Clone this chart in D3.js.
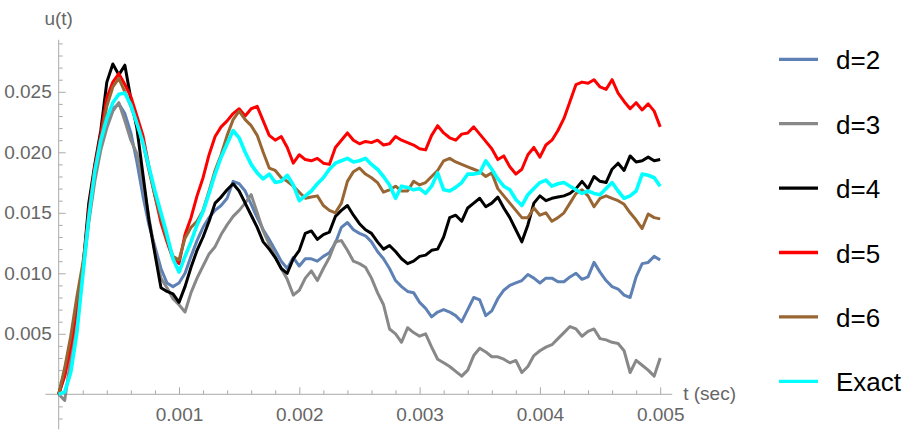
<!DOCTYPE html>
<html>
<head>
<meta charset="utf-8">
<script src="https://cdn.jsdelivr.net/npm/d3@7"></script>
<style>
  body { margin: 0; background: #fff; }
  svg { display: block; font-family: "Liberation Sans", Arial, sans-serif; }
</style>
</head>
<body>
<script>
// chart size
var W = 915;
var H = 436;

// sample times in ms (every 0.05 ms from 0 to 5 ms)
var tMs = d3.range(101).map(function(i) { return i * 0.05; });

// u(t) for each run, in units of 1e-3
var uD2 = [
  0, 1.6, 4.2, 7.2, 10.2, 14.8, 18.0, 20.6, 22.6, 23.6,
  24.0, 23.2, 21.6, 19.2, 16.4, 14.0, 12.2, 10.4, 9.2, 8.9,
  9.2, 10.0, 11.4, 12.7, 13.8, 14.6, 15.2, 15.6, 16.2, 17.6,
  17.4, 16.8, 15.7, 14.6, 13.6, 12.8, 11.9, 11.0, 10.4, 11.3,
  10.6, 11.2, 11.2, 11.0, 11.4, 11.7, 12.5, 13.8, 14.2, 13.6,
  13.3, 13.1, 12.6, 11.8, 11.2, 10.4, 9.4, 8.9, 8.5, 8.4,
  7.6, 7.1, 6.4, 6.8, 7.0, 6.8, 6.5, 6.0, 7.0, 8.0,
  7.8, 6.5, 6.9, 7.9, 8.6, 9.0, 9.2, 9.4, 9.9, 9.6,
  9.2, 9.6, 9.6, 9.3, 9.3, 9.7, 10.0, 9.5, 9.7, 10.9,
  10.1, 9.4, 8.9, 8.7, 8.2, 8.0, 9.7, 10.8, 10.9, 11.4,
  11.1
];
var uD3 = [
  0, -0.5, 3.0, 6.6, 10.0, 14.2, 17.6, 20.2, 22.0, 23.4,
  24.1, 22.6, 21.0, 19.9, 17.6, 14.6, 11.8, 9.6, 8.8, 7.9,
  7.4, 6.8, 8.4, 9.6, 10.6, 11.6, 12.2, 13.2, 14.0, 14.7,
  15.2, 15.8, 16.5, 15.0, 13.5, 12.4, 11.4, 10.4, 9.5, 8.2,
  8.6, 9.6, 10.2, 9.4, 10.4, 11.3, 12.6, 12.7, 11.9, 11.0,
  10.8, 10.5, 9.6, 8.4, 7.4, 5.4, 5.0, 4.3, 5.5, 5.1,
  4.8, 5.0, 3.9, 2.9, 2.6, 2.3, 1.9, 1.5, 2.0, 3.2,
  3.8, 3.5, 3.1, 3.1, 2.9, 2.6, 2.8, 1.8, 2.3, 3.2,
  3.6, 3.9, 4.1, 4.6, 5.1, 5.6, 5.4, 4.8, 5.2, 5.4,
  4.6, 4.5, 4.3, 4.2, 3.6, 1.8, 2.8, 2.4, 2.0, 1.5,
  3.0
];
var uD4 = [
  0, 1.9, 4.5, 7.2, 10.3, 15.8, 19.0, 21.8, 25.8, 27.3,
  26.4, 27.2, 24.4, 22.0, 18.2, 14.4, 11.6, 8.8, 8.5, 8.3,
  7.6, 8.9, 10.5, 11.9, 13.0, 14.3, 15.8, 16.3, 16.9, 17.4,
  16.8, 15.8, 14.8, 13.8, 12.6, 12.0, 11.3, 10.4, 10.0, 11.2,
  11.9, 13.3, 13.5, 12.8, 13.2, 13.4, 14.7, 15.2, 15.6, 14.8,
  14.1, 13.6, 13.3, 12.6, 12.0, 12.3, 11.8, 11.2, 10.8, 11.0,
  11.4, 11.5, 11.9, 12.0, 13.0, 14.6, 14.8, 14.3, 15.4, 15.8,
  16.2, 15.5, 15.8, 16.3, 15.4, 14.6, 13.6, 12.6, 14.0, 15.8,
  16.4, 16.0, 16.2, 16.3, 16.4, 16.6, 17.0, 17.6, 17.0, 18.0,
  17.6, 17.5, 18.6, 19.1, 18.5, 19.7, 19.2, 19.3, 19.6, 19.3,
  19.4
];
var uD5 = [
  0, 1.5, 4.0, 7.0, 10.2, 15.2, 18.8, 21.5, 24.5, 25.8,
  26.5, 25.6, 24.6, 23.0, 21.4, 18.8, 16.4, 14.2, 12.6, 11.2,
  10.8, 13.2, 14.6, 16.4, 17.9, 19.8, 21.3, 22.1, 22.6, 23.2,
  23.6, 23.0, 23.6, 23.8, 22.6, 21.4, 21.0, 21.3, 20.4, 19.1,
  19.8, 19.4, 19.3, 19.5, 19.1, 19.0, 20.4, 21.0, 21.6, 21.0,
  20.7, 20.9, 20.8, 21.0, 20.6, 20.7, 21.3, 21.0, 20.8, 20.6,
  20.3, 20.2, 21.4, 22.2, 21.6, 21.2, 21.0, 21.5, 21.6, 22.1,
  21.5, 20.9, 20.3, 19.4, 19.7, 18.8, 18.2, 18.6, 19.8, 20.4,
  19.6, 20.6, 21.0, 21.8, 22.8, 24.2, 25.6, 25.8, 25.7, 26.0,
  25.4, 25.2, 26.0, 24.9, 24.2, 23.6, 24.1, 23.5, 24.0, 23.4,
  22.1
];
var uD6 = [
  0, 2.2, 4.8, 8.0, 10.8, 14.5, 18.2, 21.0, 23.8, 25.4,
  26.1, 25.0, 23.8, 22.4, 20.8, 18.5, 16.4, 14.6, 12.8, 11.4,
  11.1, 12.9, 13.8, 14.3, 15.2, 16.8, 18.5, 19.8, 21.4, 22.7,
  23.4, 22.7, 22.2, 21.4, 20.0, 18.7, 18.5, 17.9, 17.6, 17.2,
  16.7, 16.2, 16.3, 16.4, 15.6, 15.2, 15.0, 15.8, 17.6, 18.4,
  18.7, 18.2, 17.9, 17.5, 16.7, 16.9, 17.2, 16.8, 16.8, 17.6,
  17.3, 17.5, 18.0, 18.5, 19.3, 19.5, 19.2, 19.0, 18.8, 18.6,
  18.4, 18.0, 18.3, 17.0, 16.4, 15.8, 15.2, 14.6, 14.6, 15.4,
  14.8, 15.0, 14.3, 14.6, 15.0, 15.8, 16.6, 16.9, 16.4, 15.5,
  16.2, 16.4, 16.2, 16.0, 15.7, 15.0, 14.4, 13.7, 14.9, 14.6,
  14.5
];
var uExact = [
  0, 0.2, 1.8, 5.0, 9.8, 14.6, 18.4, 21.0, 22.8, 24.1,
  24.8, 24.9, 23.9, 22.4, 20.8, 18.8, 16.8, 15.0, 13.2, 11.2,
  10.1, 11.4, 12.6, 14.0, 15.1, 16.6, 18.2, 19.6, 20.7, 21.8,
  21.2, 20.0, 19.0, 18.3, 17.8, 18.2, 17.5, 17.6, 18.1, 17.3,
  16.0, 16.4, 16.8, 17.4, 17.9, 18.6, 19.1, 19.3, 19.5, 19.2,
  19.3, 19.5, 19.0, 18.6, 18.0, 17.3, 16.2, 17.2, 17.1, 16.9,
  17.0, 16.6, 17.2, 18.3, 16.9, 16.8, 17.1, 17.5, 18.2, 18.2,
  18.3, 19.3, 18.6, 17.8, 17.2, 16.9, 16.1, 15.6, 16.5, 17.0,
  17.5, 17.7, 17.2, 17.4, 17.5, 17.2, 16.9, 16.6, 16.8, 16.6,
  16.5, 17.0, 17.5, 16.8, 16.2, 16.4, 16.8, 18.2, 18.1, 17.9,
  17.2
];

var seriesNames = ["d=2", "d=3", "d=4", "d=5", "d=6", "Exact"];
var seriesValues = [uD2, uD3, uD4, uD5, uD6, uExact];
var seriesColors = ["#5e81b5", "#888888", "#000000", "#ff0000", "#996633", "#00ffff"];

// axis ticks
var xTicks = [0.001, 0.002, 0.003, 0.004, 0.005];
var yTicks = [0.005, 0.010, 0.015, 0.020, 0.025];
var xLabel = "t (sec)";
var yLabel = "u(t)";

function main() {
  var svg = d3.select("body").append("svg")
      .attr("width", W)
      .attr("height", H);

  var xScale = d3.scaleLinear().domain([0, 0.005]).range([58.7, 660.2]);
  var yScale = d3.scaleLinear().domain([0, 0.025]).range([394.3, 91.8]);

  drawAxes(svg, xScale, yScale);
  drawLines(svg, xScale, yScale);
  drawLegend(svg);
}

function drawAxes(svg, xScale, yScale) {
  var axisColor = "#aaaaaa";
  var labelColor = "#666666";

  //Minor ticks, no labels
  var xMinor = d3.range(1, 25).map(function(i) { return i * 0.0002; })
      .filter(function(v, i) { return (i + 1) % 5 != 0; });
  var yMinor = d3.range(-2, 30).map(function(i) { return i * 0.001; })
      .filter(function(v) { return Math.round(v * 1000) % 5 != 0; });

  var gx = svg.append("g")
      .attr("transform", "translate(0," + yScale(0) + ")");
  gx.append("g").call(d3.axisBottom(xScale).tickValues(xMinor)
      .tickSize(-4).tickFormat(""));
  gx.append("g").call(d3.axisBottom(xScale).tickValues(xTicks)
      .tickSize(-7).tickPadding(13).tickFormat(d3.format(".3f")));

  var gy = svg.append("g")
      .attr("transform", "translate(" + xScale(0) + ",0)");
  gy.append("g").call(d3.axisLeft(yScale).tickValues(yMinor)
      .tickSize(-4).tickFormat(""));
  gy.append("g").call(d3.axisLeft(yScale).tickValues(yTicks)
      .tickSize(-7).tickPadding(7).tickFormat(d3.format(".3f")));

  svg.selectAll(".domain").remove();
  svg.selectAll(".tick line").attr("stroke", axisColor);
  svg.selectAll(".tick text")
      .attr("fill", labelColor)
      .style("font-size", "19px")
      .style("font-family", "'Liberation Sans', Arial, sans-serif");

  //Axis lines
  svg.append("line")
      .attr("x1", xScale(-0.00011)).attr("x2", xScale(0.0051))
      .attr("y1", yScale(0)).attr("y2", yScale(0))
      .attr("stroke", axisColor);
  svg.append("line")
      .attr("x1", xScale(0)).attr("x2", xScale(0))
      .attr("y1", yScale(-0.0029)).attr("y2", yScale(0.0293))
      .attr("stroke", axisColor);

  svg.append("text")
      .attr("x", xScale(0.0051) + 11)
      .attr("y", yScale(0) + 6)
      .attr("fill", labelColor)
      .style("font-size", "19px")
      .text(xLabel);
  svg.append("text")
      .attr("x", xScale(0))
      .attr("y", 25)
      .attr("text-anchor", "middle")
      .attr("fill", labelColor)
      .style("font-size", "19px")
      .text(yLabel);
}

function drawLines(svg, xScale, yScale) {
  var line = d3.line()
      .x(function(d, i) { return xScale(tMs[i] / 1000); })
      .y(function(d) { return yScale(d / 1000); });

  svg.append("g").selectAll("path")
      .data(seriesValues)
      .enter()
      .append("path")
      .attr("d", line)
      .attr("fill", "none")
      .attr("stroke", function(d, i) { return seriesColors[i]; })
      .attr("stroke-width", function(d, i) { return i == 5 ? 3.6 : 3; })
      .attr("stroke-linejoin", "round");
}

function drawLegend(svg) {
  var rows = svg.append("g").selectAll("g")
      .data(seriesNames)
      .enter()
      .append("g")
      .attr("transform", function(d, i) { return "translate(779," + (59.3 + i * 64.4) + ")"; });

  rows.append("line")
      .attr("x1", 0).attr("x2", 39)
      .attr("stroke", function(d, i) { return seriesColors[i]; })
      .attr("stroke-width", 3.3);

  rows.append("text")
      .attr("x", 57)
      .attr("y", 10)
      .attr("fill", "#000")
      .style("font-size", "26px")
      .text(function(d) { return d; });
}

main();
</script>
</body>
</html>
